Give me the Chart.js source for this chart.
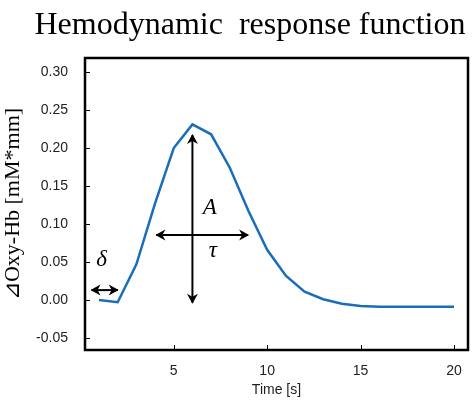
<!DOCTYPE html>
<html>
<head>
<meta charset="utf-8">
<script src="https://cdn.jsdelivr.net/npm/chart.js@4/dist/chart.umd.min.js"></script>
<style>
  html, body { margin: 0; padding: 0; background: #fff; }
  #wrap { width: 472px; height: 405px; position: relative; }
</style>
</head>
<body>
<div id="wrap"><canvas id="hrfChart"></canvas></div>
<script>
// ===== Данные =====
const timeSec = [1, 2, 3, 4, 5, 6, 7, 8, 9, 10, 11, 12, 13, 14, 15, 16, 17, 18, 19, 20];
const oxyHb = [0.000, -0.003, 0.047, 0.127, 0.200, 0.231, 0.218, 0.174, 0.117, 0.066,
               0.032, 0.011, 0.001, -0.005, -0.008, -0.009, -0.009, -0.009, -0.009, -0.009];
const xTicks = [5, 10, 15, 20];
const yTicks = [-0.05, 0.00, 0.05, 0.10, 0.15, 0.20, 0.25, 0.30];

// annotation arrows (data units) and their symbols
const arrowStart = [[6, 0.217], [4.07, 0.0855], [0.6, 0.013]];
const arrowEnd = [[6, -0.0035], [8.98, 0.0855], [2.0, 0.013]];
const symbolText = ['A', 'τ', 'δ'];
const symbolPos = [[6.93, 0.121], [7.1, 0.064], [1.14, 0.053]];

const serif = '"Liberation Serif", "Times New Roman", serif';
const sans = '"Liberation Sans", Arial, sans-serif';

// ===== Плагин: рамка, внутренние засечки, стрелки, заголовок =====
const framePlugin = {
    id: 'frame',
    afterDatasetsDraw(chart) {
        const { ctx, chartArea: a, scales } = chart;
        const xs = scales.x, ys = scales.y;
        ctx.save();

        // внутренние засечки
        ctx.strokeStyle = '#000';
        ctx.lineWidth = 1;
        ctx.beginPath();
        yTicks.forEach(v => {
            const py = Math.round(ys.getPixelForValue(v)) + 0.5;
            ctx.moveTo(a.left, py);
            ctx.lineTo(a.left + 5, py);
        });
        xTicks.forEach(v => {
            const px = Math.round(xs.getPixelForValue(v)) + 0.5;
            ctx.moveTo(px, a.bottom);
            ctx.lineTo(px, a.bottom - 5);
        });
        ctx.stroke();

        // рамка
        ctx.lineWidth = 2.5;
        ctx.strokeRect(a.left, a.top, a.right - a.left, a.bottom - a.top);

        // стрелки
        ctx.lineWidth = 2;
        ctx.fillStyle = '#000';
        arrowStart.forEach((s, i) => {
            const e = arrowEnd[i];
            const x1 = xs.getPixelForValue(s[0]), y1 = ys.getPixelForValue(s[1]);
            const x2 = xs.getPixelForValue(e[0]), y2 = ys.getPixelForValue(e[1]);
            ctx.beginPath();
            ctx.moveTo(x1, y1);
            ctx.lineTo(x2, y2);
            ctx.stroke();
            drawHead(ctx, x2, y2, x1, y1);
            drawHead(ctx, x1, y1, x2, y2);
        });

        // символы
        ctx.font = 'italic 23px ' + serif;
        ctx.textAlign = 'center';
        ctx.textBaseline = 'middle';
        symbolText.forEach((t, i) => {
            const p = symbolPos[i];
            ctx.fillText(t, xs.getPixelForValue(p[0]), ys.getPixelForValue(p[1]));
        });

        // заголовок
        ctx.font = '32px ' + serif;
        ctx.textBaseline = 'alphabetic';
        ctx.fillText('Hemodynamic  response function', 250, 34);
        ctx.restore();
    }
};

function drawHead(ctx, tx, ty, fx, fy) {
    const ang = Math.atan2(ty - fy, tx - fx);
    const len = 9, wid = 5.5;
    ctx.save();
    ctx.translate(tx, ty);
    ctx.rotate(ang);
    ctx.beginPath();
    ctx.moveTo(1, 0);
    ctx.lineTo(-len, -wid);
    ctx.lineTo(-len + 3, 0);
    ctx.lineTo(-len, wid);
    ctx.closePath();
    ctx.fill();
    ctx.restore();
}

// ===== График =====
const ctx = document.getElementById('hrfChart').getContext('2d');
new Chart(ctx, {
    type: 'line',
    data: {
        datasets: [{
            data: timeSec.map((t, i) => ({ x: t, y: oxyHb[i] })),
            borderColor: '#1a6db8',
            borderWidth: 2.5,
            pointRadius: 0,
            tension: 0,
            fill: false
        }]
    },
    options: {
        responsive: true,
        maintainAspectRatio: false,
        animation: false,
        layout: { padding: { top: 58, right: 4, left: 0, bottom: 0 } },
        plugins: {
            legend: { display: false },
            tooltip: { enabled: false }
        },
        scales: {
            x: {
                type: 'linear',
                min: 0.25,
                max: 20.75,
                afterBuildTicks: s => { s.ticks = xTicks.map(v => ({ value: v })); },
                afterFit: s => { s.height = 55; },
                grid: { display: false },
                border: { display: false },
                ticks: { color: '#222', font: { family: sans, size: 14 }, padding: 5 },
                title: {
                    display: true, text: 'Time [s]', color: '#222',
                    font: { family: sans, size: 14 }, padding: { top: 4, bottom: 6 }
                }
            },
            y: {
                min: -0.0658,
                max: 0.3184,
                afterBuildTicks: s => { s.ticks = yTicks.map(v => ({ value: v })); },
                afterFit: s => { s.width = 85; },
                grid: { display: false },
                border: { display: false },
                ticks: {
                    color: '#222', font: { family: sans, size: 14 }, padding: 9,
                    callback: v => v.toFixed(2)
                },
                title: {
                    display: true, text: '⊿Oxy-Hb [mM*mm]', color: '#000',
                    font: { family: serif, size: 22 }, padding: { top: 0, bottom: 0 }
                }
            }
        }
    },
    plugins: [framePlugin]
});
</script>
</body>
</html>
